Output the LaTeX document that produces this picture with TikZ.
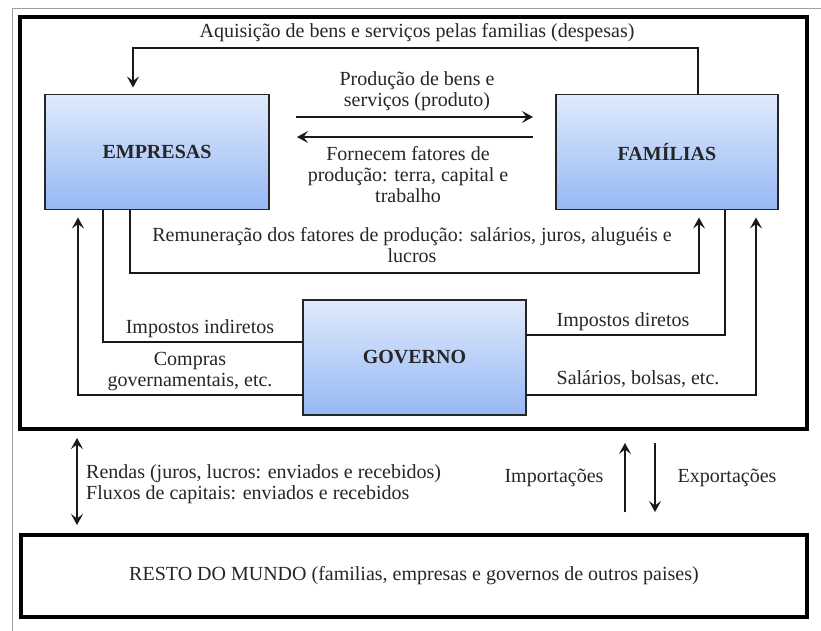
\documentclass[tikz,border=0pt]{standalone}
\usepackage{fontspec}
\setmainfont{Liberation Serif}
\usetikzlibrary{arrows.meta}
\definecolor{boxtop}{RGB}{224,234,252}
\definecolor{boxbot}{RGB}{150,184,244}
\begin{document}
\begin{tikzpicture}[x=1pt,y=-1pt,
  font=\fontsize{20}{21}\selectfont,
  >={Stealth[length=11pt,width=12pt,inset=4.5pt]},
  agent/.style={draw=black!85, line width=1.6pt, top color=boxtop, bottom color=boxbot,
    minimum width=224pt, minimum height=115pt, inner sep=0pt, outer sep=0pt,
    font=\fontsize{20}{21}\selectfont\bfseries, text=black!85},
  bigframe/.style={draw=black, line width=4pt, inner sep=0pt, outer sep=0pt},
  flow/.style={line width=1.6pt, draw=black!90},
  lbl/.style={align=center, inner sep=0pt, text=black!85}]
\useasboundingbox (0,0) rectangle (821,631);
\fill[white] (0,0) rectangle (821,631);
% thin grey frame of the page
\draw[gray!75, line width=1.5pt] (12.5,640) -- (12.5,8.5) -- (830,8.5);

% outer frame (the country) and rest of the world
\node[bigframe, minimum width=787pt, minimum height=412pt] (pais) at (413.5,223) {};
\node[bigframe, minimum width=786pt, minimum height=82pt, text=black!85] (mundo) at (414,576)
  {RESTO DO MUNDO (familias, empresas e governos de outros paises)};

% agents
\node[agent] (emp) at (157,152) {EMPRESAS};
\node[agent, minimum width=222pt] (fam) at (667,152) {FAMÍLIAS};
\node[agent, minimum width=223pt] (gov) at (414.5,357.5) {GOVERNO};

% helper coordinates
\coordinate (p1) at (296,117);
\coordinate (p2) at (533,117);
\coordinate (f1) at (533,137);
\coordinate (f2) at (297,137);
\coordinate (xa) at (77,0);
\coordinate (xi) at (625,0);
\coordinate (xe) at (655,0);

% connectors
\draw[flow,->,shorten >=7pt] ([xshift=31pt]fam.north) |- (133,48) -- ([xshift=-24pt]emp.north);
\draw[flow,->] (p1) -- (p2);
\draw[flow,->] (f1) -- (f2);
\draw[flow,->,shorten >=8pt] ([xshift=-27pt]emp.south) |- (699,273) -- ([xshift=32pt]fam.south);
\draw[flow] ([xshift=-54pt]emp.south) |- ([yshift=15.5pt]gov.west);
\draw[flow,->,shorten >=8pt] ([yshift=-37.5pt]gov.west) -| ([xshift=-79pt]emp.south);
\draw[flow] ([xshift=58pt]fam.south) |- ([yshift=22.5pt]gov.east);
\draw[flow,->,shorten >=8pt] ([yshift=-37.5pt]gov.east) -| ([xshift=89pt]fam.south);

\draw[flow,<->,shorten <=9pt,shorten >=10pt] (pais.south -| xa) -- (mundo.north -| xa);
\draw[flow,->,shorten <=23pt,shorten >=14pt] (mundo.north -| xi) -- (pais.south -| xi);
\draw[flow,->,shorten <=14pt,shorten >=23pt] (pais.south -| xe) -- (mundo.north -| xe);

% labels
\node[lbl] (tAq) at (417,33) {Aquisição de bens e serviços pelas familias (despesas)};
\node[lbl] (tProd) at (417,91) {Produção de bens e\\serviços (produto)};
\node[lbl] (tForn) at (408,175) {Fornecem fatores de\\produção: terra, capital e\\trabalho};
\node[lbl] (tRem) at (412,245) {Remuneração dos fatores de produção: salários, juros, aluguéis e\\lucros};
\node[lbl] (tII) at (200,329) {Impostos indiretos};
\node[lbl] (tCG) at (190,372) {Compras\\governamentais, etc.};
\node[lbl] (tID) at (623,322) {Impostos diretos};
\node[lbl] (tSB) at (638,379) {Salários, bolsas, etc.};
\node[lbl, align=left, anchor=west] (tRF) at (86,484) {Rendas (juros, lucros: enviados e recebidos)\\Fluxos de capitais: enviados e recebidos};
\node[lbl] (tImp) at (554,478) {Importações};
\node[lbl] (tExp) at (727,478) {Exportações};
\end{tikzpicture}
\end{document}
